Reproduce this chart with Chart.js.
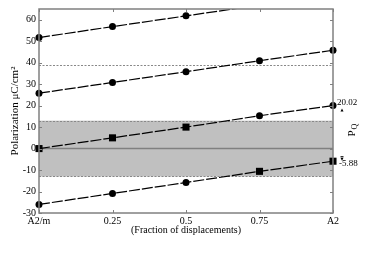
<!DOCTYPE html>
<html>
<head>
<meta charset="utf-8">
<script src="https://cdn.jsdelivr.net/npm/chart.js@4/dist/chart.umd.min.js"></script>
<style>
  html, body { margin: 0; padding: 0; background: #fff; }
</style>
</head>
<body>
<canvas id="polChart" width="389" height="279"></canvas>
<script>
// x positions along the path A2/m -> A2
const fractions = [0, 0.25, 0.5, 0.75, 1];
const xTickLabels = ['A2/m', '0.25', '0.5', '0.75', 'A2'];

// polarization branches (uC/cm^2)
const branch1 = [51.7, 56.8, 61.8, 66.8, 71.7];
const branch2 = [25.8, 30.8, 35.8, 40.9, 45.8];
const branch3 = [0, 5.0, 10.0, 15.3, 20.02];
const branch4 = [-26.0, -20.9, -15.8, -10.6, -5.88];

// marker shapes per point
const shapesRound = ['circle', 'circle', 'circle', 'circle', 'circle'];
const shapes3 = ['rect', 'rect', 'rect', 'circle', 'circle'];
const shapes4 = ['circle', 'circle', 'circle', 'rect', 'rect'];

// reference levels
const bandLow = -13;
const bandHigh = 13;
const upperLevel = 38.7;
const pqLabels = ['20.02', '-5.88'];

const serif = '"Liberation Serif", "DejaVu Serif", serif';

function toPoints(vals) {
    return fractions.map((f, i) => ({ x: f, y: vals[i] }));
}

function sizeFor(shapes) {
    return shapes.map(s => s === 'rect' ? 5 : 3.5);
}

function makeSet(vals, shapes) {
    return {
        data: toPoints(vals),
        borderColor: '#000',
        backgroundColor: '#000',
        borderWidth: 1.2,
        borderDash: [11, 2],
        pointStyle: shapes,
        pointRadius: sizeFor(shapes),
        pointBorderWidth: 0,
        clip: { left: false, right: false, top: 0, bottom: false }
    };
}

// gray band, reference lines, inner ticks, frame and right-hand notes
const decorPlugin = {
    id: 'decor',
    beforeDatasetsDraw(chart) {
        const { ctx, chartArea: a, scales: { x, y } } = chart;
        ctx.save();
        ctx.fillStyle = '#c0c0c0';
        const yTop = y.getPixelForValue(bandHigh);
        const yBot = y.getPixelForValue(bandLow);
        ctx.fillRect(a.left, yTop, a.right - a.left, yBot - yTop);

        ctx.strokeStyle = '#888';
        ctx.lineWidth = 1;
        ctx.setLineDash([2, 1.5]);
        [bandHigh, bandLow, upperLevel].forEach(v => {
            const py = Math.round(y.getPixelForValue(v)) + 0.5;
            ctx.beginPath();
            ctx.moveTo(a.left, py);
            ctx.lineTo(a.right, py);
            ctx.stroke();
        });
        ctx.setLineDash([]);
        ctx.lineWidth = 1.5;
        ctx.strokeStyle = '#808080';
        const p0 = y.getPixelForValue(0);
        ctx.beginPath();
        ctx.moveTo(a.left, p0);
        ctx.lineTo(a.right, p0);
        ctx.stroke();
        ctx.restore();
    },
    afterDraw(chart) {
        const { ctx, chartArea: a, scales: { x, y } } = chart;
        ctx.save();
        ctx.strokeStyle = '#808080';
        ctx.lineWidth = 1;
        // inner ticks
        y.ticks.forEach(t => {
            const py = Math.round(y.getPixelForValue(t.value)) + 0.5;
            ctx.beginPath();
            ctx.moveTo(a.left, py); ctx.lineTo(a.left + 3, py);
            ctx.moveTo(a.right, py); ctx.lineTo(a.right - 3, py);
            ctx.stroke();
        });
        x.ticks.forEach(t => {
            const px = Math.round(x.getPixelForValue(t.value)) + 0.5;
            ctx.beginPath();
            ctx.moveTo(px, a.top); ctx.lineTo(px, a.top + 3);
            ctx.moveTo(px, a.bottom); ctx.lineTo(px, a.bottom - 3);
            ctx.stroke();
        });
        ctx.lineWidth = 1.5;
        ctx.strokeRect(a.left, a.top, a.right - a.left, a.bottom - a.top);

        // right-hand annotations
        ctx.fillStyle = '#000';
        ctx.font = '9px ' + serif;
        ctx.textBaseline = 'middle';
        ctx.textAlign = 'left';
        const yA = y.getPixelForValue(20.02);
        ctx.fillText(pqLabels[0], a.right + 4, yA - 3);
        ctx.beginPath();
        ctx.moveTo(a.right + 9, yA + 3);
        ctx.lineTo(a.right + 7.5, yA + 6);
        ctx.lineTo(a.right + 10.5, yA + 6);
        ctx.fill();

        const yB = y.getPixelForValue(-5.88);
        ctx.fillText(pqLabels[1], a.right + 6, yB + 2);
        ctx.fillRect(a.right + 7.5, yB - 5, 3, 1);
        ctx.beginPath();
        ctx.moveTo(a.right + 7.5, yB - 3.5);
        ctx.lineTo(a.right + 10.5, yB - 3.5);
        ctx.lineTo(a.right + 9, yB - 0.5);
        ctx.fill();

        // P_Q rotated
        ctx.translate(a.right + 19, (yA + yB) / 2 - 3);
        ctx.rotate(-Math.PI / 2);
        ctx.textAlign = 'left';
        ctx.font = '11px ' + serif;
        ctx.fillText('P', -6, 0);
        ctx.font = '8px ' + serif;
        ctx.fillText('Q', 1, 3);
        ctx.restore();
    }
};

const ctx = document.getElementById('polChart').getContext('2d');
const chart = new Chart(ctx, {
    type: 'line',
    data: {
        datasets: [
            makeSet(branch1, shapesRound),
            makeSet(branch2, shapesRound),
            makeSet(branch3, shapes3),
            makeSet(branch4, shapes4)
        ]
    },
    options: {
        responsive: false,
        animation: false,
        events: [],
        layout: { padding: { top: 7, right: 56, bottom: 43, left: 0 } },
        plugins: {
            legend: { display: false },
            tooltip: { enabled: false }
        },
        scales: {
            x: {
                type: 'linear',
                min: 0,
                max: 1,
                grid: { display: false, drawTicks: false },
                border: { display: false },
                ticks: {
                    stepSize: 0.25,
                    color: '#000',
                    padding: 2,
                    maxRotation: 0,
                    font: { family: serif, size: 10 },
                    callback: v => xTickLabels[fractions.indexOf(v)]
                },
                title: {
                    display: true,
                    text: '(Fraction of displacements)',
                    color: '#000',
                    padding: 0,
                    font: { family: serif, size: 10 }
                },
                afterFit: s => { s.height = 23; }
            },
            y: {
                min: -30,
                max: 65,
                grid: { display: false, drawTicks: false },
                border: { display: false },
                ticks: {
                    stepSize: 10,
                    includeBounds: false,
                    color: '#000',
                    padding: 3,
                    font: { family: serif, size: 10 }
                },
                title: {
                    display: true,
                    text: 'Polarization \u03bcC/cm\u00b2',
                    color: '#000',
                    padding: { top: 9, bottom: 0 },
                    font: { family: serif, size: 11 }
                },
                afterFit: s => { s.width = 39; }
            }
        }
    },
    plugins: [decorPlugin]
});
</script>
</body>
</html>
